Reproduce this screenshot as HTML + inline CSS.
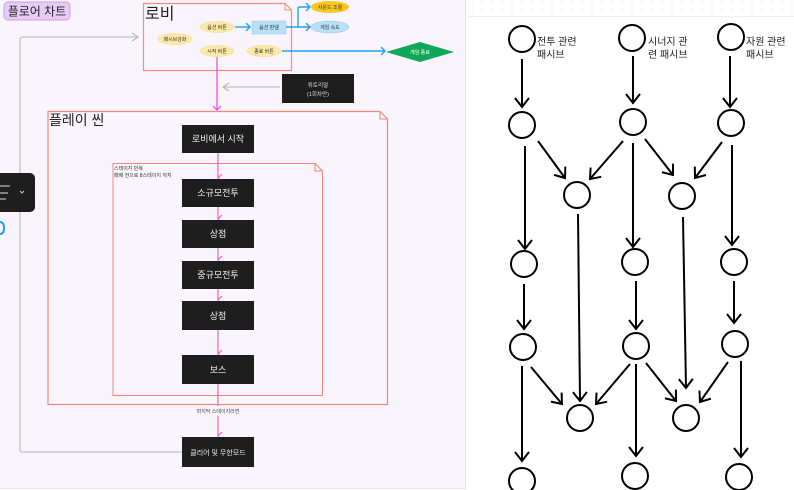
<!DOCTYPE html>
<html><head><meta charset="utf-8"><style>
html,body{margin:0;padding:0;width:794px;height:490px;overflow:hidden;background:#fff}
svg{display:block}
text{font-family:"Liberation Sans","Noto Sans CJK KR",sans-serif}
</style></head><body>
<svg width="794" height="490" viewBox="0 0 794 490" xmlns="http://www.w3.org/2000/svg">
<defs>
<marker id="pk" markerWidth="8" markerHeight="8" refX="4" refY="6" orient="auto-start-reverse" markerUnits="userSpaceOnUse"><path d="M0,2 L4,6 L8,2" fill="none" stroke="#f060c0" stroke-width="1.2"/></marker>
<marker id="mg" markerWidth="8" markerHeight="8" refX="4" refY="6" markerUnits="userSpaceOnUse"><path d="M0,2 L4,6 L8,2" fill="none" stroke="#f040e0" stroke-width="1.2"/></marker>
<marker id="bl" markerWidth="8" markerHeight="8" refX="6" refY="4" orient="auto" markerUnits="userSpaceOnUse"><path d="M2,0 L6,4 L2,8" fill="none" stroke="#20a0f0" stroke-width="1.4"/></marker>
<marker id="gr" markerWidth="8" markerHeight="10" refX="6" refY="5" orient="auto" markerUnits="userSpaceOnUse"><path d="M2,1 L6,5 L2,9" fill="none" stroke="#b8b8b8" stroke-width="1.2"/></marker>
<marker id="ka" markerWidth="16" markerHeight="16" refX="12" refY="8" orient="auto" markerUnits="userSpaceOnUse"><path d="M3,1 L12,8 L3,15" fill="none" stroke="#000" stroke-width="2"/></marker>
<pattern id="dots" width="10" height="8" patternUnits="userSpaceOnUse"><circle cx="2" cy="2" r="0.6" fill="#ccc"/></pattern>
</defs>
<!-- left panel -->
<rect x="0" y="0" width="466" height="488" fill="#faf5fc"/>
<line x1="465.5" y1="0" x2="465.5" y2="488" stroke="#e8e4ea"/>
<line x1="0" y1="488.5" x2="466" y2="488.5" stroke="#e8e4ea"/>
<!-- right dots -->
<rect x="468" y="0" width="326" height="16" fill="url(#dots)"/>
<line x1="468" y1="16.5" x2="794" y2="16.5" stroke="#f0f0f0"/>

<!-- title -->
<rect x="4" y="2" width="66" height="18" rx="4" fill="#e8ccf8" stroke="#c9a0e0"/>
<text x="37" y="15.5" font-size="12" text-anchor="middle" fill="#222">플로어 차트</text>

<!-- gray loop -->
<path d="M138,37 L23,37 Q20,37 20,40 L20,449 Q20,452 23,452 L182,452" fill="none" stroke="#c8c8cc" stroke-width="1.5"/>
<path d="M132,33 L138,37 L132,41" fill="none" stroke="#b8b8b8" stroke-width="1.2"/>

<!-- lobby -->
<path d="M143.5,3.5 L285,3.5 L291.5,10 L291.5,70.5 L143.5,70.5 Z" fill="none" stroke="#f09080" stroke-width="1.2"/>
<path d="M285,3.5 L285,10 L291.5,10" fill="none" stroke="#f09080"/>
<text x="145" y="19" font-size="16" fill="#222">로비</text>
<g font-size="5" text-anchor="middle" fill="#333">
<ellipse cx="175" cy="39" rx="17" ry="5.5" fill="#fde9a6" stroke="#f0d890" stroke-width=".5"/><text x="175" y="41">패시브강화</text>
<ellipse cx="217" cy="27" rx="17" ry="5.5" fill="#fde9a6" stroke="#f0d890" stroke-width=".5"/><text x="217" y="29">옵션 버튼</text>
<ellipse cx="217" cy="51" rx="17" ry="5.5" fill="#fde9a6" stroke="#f0d890" stroke-width=".5"/><text x="217" y="53">시작 버튼</text>
<ellipse cx="264" cy="51" rx="17" ry="5.5" fill="#fde9a6" stroke="#f0d890" stroke-width=".5"/><text x="264" y="53">종료 버튼</text>
<rect x="252" y="21" width="34" height="13" fill="#b8e0f8" stroke="#90c8f0" stroke-width=".5"/><text x="269" y="29">옵션 판넬</text>
<ellipse cx="330" cy="7" rx="19" ry="6" fill="#f8c820"/><text x="330" y="9">사운드 조절</text>
<ellipse cx="330" cy="27" rx="19" ry="6" fill="#b8e0f8" stroke="#90c8f0" stroke-width=".5"/><text x="330" y="29">게임 속도</text>
<polygon points="386,52 420,42 454,52 420,62" fill="#10a858"/><text x="420" y="54" fill="#fff">게임 종료</text>
</g>
<g stroke="#20a0f0" stroke-width="1.4" fill="none">
<line x1="235" y1="27" x2="250" y2="27" marker-end="url(#bl)"/>
<line x1="286" y1="27" x2="310" y2="27" marker-end="url(#bl)"/>
<path d="M298,27 L298,9 Q298,7 300,7 L310,7" marker-end="url(#bl)"/>
<line x1="282" y1="51" x2="385" y2="51" marker-end="url(#bl)"/>
</g>
<line x1="217" y1="57" x2="217" y2="110" stroke="#f040e0" stroke-width="1.2" marker-end="url(#mg)"/>

<!-- tutorial -->
<line x1="280" y1="87" x2="223" y2="87" stroke="#c0c0c0" stroke-width="1.2"/>
<path d="M229,83 L223,87 L229,91" fill="none" stroke="#b8b8b8" stroke-width="1.2"/>
<rect x="282" y="74" width="72" height="29" fill="#1e1e1e"/>
<text x="318" y="87" font-size="5.5" text-anchor="middle" fill="#ddd">튜토리얼</text>
<text x="318" y="96" font-size="5.5" text-anchor="middle" fill="#ddd">(1회차만)</text>

<!-- play scene -->
<path d="M48,111.5 L380,111.5 L387.5,119 L387.5,404.5 L48,404.5 Z" fill="none" stroke="#f08878" stroke-width="1.2"/>
<path d="M380,111.5 L380,119 L387.5,119" fill="none" stroke="#f08878"/>
<text x="49" y="125" font-size="14" fill="#222">플레이 씬</text>
<path d="M113,163.5 L315,163.5 L322.5,171 L322.5,395.5 L113,395.5 Z" fill="none" stroke="#f08878" stroke-width="1"/>
<path d="M315,163.5 L315,171 L322.5,171" fill="none" stroke="#f08878"/>
<text x="114" y="170" font-size="5" fill="#333">스테이지 반복</text>
<text x="114" y="177" font-size="5" fill="#333">패배 전으로 8스테이지 까지</text>

<g stroke="#f060c0" stroke-width="1.2">
<line x1="218" y1="153" x2="218" y2="178" marker-end="url(#pk)"/>
<line x1="218" y1="207" x2="218" y2="219" marker-end="url(#pk)"/>
<line x1="218" y1="248" x2="218" y2="260" marker-end="url(#pk)"/>
<line x1="218" y1="289" x2="218" y2="300" marker-end="url(#pk)"/>
<line x1="218" y1="330" x2="218" y2="354" marker-end="url(#pk)"/>
<line x1="218" y1="384" x2="218" y2="406"/>
<line x1="218" y1="416" x2="218" y2="436" marker-end="url(#pk)"/>
</g>
<text x="218" y="413" font-size="5" text-anchor="middle" fill="#444">마지막 스테이지라면</text>
<g font-size="9" text-anchor="middle" fill="#eee">
<rect x="182" y="125" width="72" height="28" fill="#1e1e1e"/><text x="218" y="142">로비에서 시작</text>
<rect x="182" y="179" width="72" height="28" fill="#1e1e1e"/><text x="218" y="196">소규모전투</text>
<rect x="182" y="220" width="72" height="28" fill="#1e1e1e"/><text x="218" y="237">상점</text>
<rect x="182" y="261" width="72" height="28" fill="#1e1e1e"/><text x="218" y="278">중규모전투</text>
<rect x="182" y="301" width="72" height="29" fill="#1e1e1e"/><text x="218" y="319">상점</text>
<rect x="182" y="355" width="72" height="29" fill="#1e1e1e"/><text x="218" y="373">보스</text>
<rect x="182" y="437" width="72" height="30" fill="#1e1e1e"/><text x="218" y="455" font-size="7">클리어 및 무한모드</text>
</g>

<!-- floating panel -->
<rect x="-10" y="173" width="45" height="39" rx="5" fill="#1e1e1e"/>
<path d="M0,186 H10 M0,193 H8 M0,199 H6" stroke="#ddd" stroke-width="1"/>
<path d="M20,191 L22,193 L24,191" fill="none" stroke="#ccc" stroke-width="1"/>
<path d="M0,222 Q4,222 4,228 Q4,234 0,234" fill="none" stroke="#20a0f0" stroke-width="2"/>

<!-- right diagram -->
<g fill="none" stroke="#000" stroke-width="2">
<circle cx="522" cy="39" r="13"/><circle cx="632" cy="38" r="13"/><circle cx="731" cy="37" r="13"/>
<circle cx="522" cy="125" r="13"/><circle cx="633" cy="122" r="13"/><circle cx="731" cy="123" r="13"/>
<circle cx="577" cy="195" r="13"/><circle cx="682" cy="196" r="13"/>
<circle cx="524" cy="264" r="13"/><circle cx="635" cy="262" r="13"/><circle cx="734" cy="262" r="13"/>
<circle cx="523" cy="347" r="13"/><circle cx="636" cy="346" r="13"/><circle cx="735" cy="344" r="13"/>
<circle cx="580" cy="418" r="13"/><circle cx="686" cy="418" r="13"/>
<circle cx="522" cy="481" r="13"/><circle cx="635" cy="476" r="13"/><circle cx="739" cy="477" r="13"/>
</g>
<g stroke="#000" stroke-width="2" marker-end="url(#ka)">
<line x1="522" y1="59" x2="522" y2="107"/>
<line x1="633" y1="56" x2="633" y2="103"/>
<line x1="730" y1="56" x2="730" y2="107"/>
<line x1="538" y1="141" x2="565" y2="178"/>
<line x1="623" y1="141" x2="590" y2="179"/>
<line x1="645" y1="139" x2="673" y2="175"/>
<line x1="722" y1="142" x2="695" y2="178"/>
<line x1="525" y1="146" x2="525" y2="249"/>
<line x1="633" y1="143" x2="633" y2="247"/>
<line x1="732" y1="145" x2="732" y2="245"/>
<line x1="578" y1="214" x2="580" y2="401"/>
<line x1="683" y1="217" x2="686" y2="388"/>
<line x1="524" y1="284" x2="524" y2="329"/>
<line x1="636" y1="281" x2="636" y2="329"/>
<line x1="734" y1="281" x2="734" y2="323"/>
<line x1="531" y1="367" x2="562" y2="404"/>
<line x1="630" y1="364" x2="596" y2="404"/>
<line x1="646" y1="363" x2="676" y2="401"/>
<line x1="728" y1="362" x2="700" y2="402"/>
<line x1="522" y1="366" x2="522" y2="461"/>
<line x1="636" y1="364" x2="636" y2="456"/>
<line x1="741" y1="361" x2="741" y2="457"/>
</g>
<g font-size="10" fill="#222">
<text x="537" y="45">전투 관련</text><text x="537" y="58">패시브</text>
<text x="648" y="45">시너지 관</text><text x="648" y="58">련 패시브</text>
<text x="746" y="45">자원 관련</text><text x="746" y="58">패시브</text>
</g>
</svg>
</body></html>
